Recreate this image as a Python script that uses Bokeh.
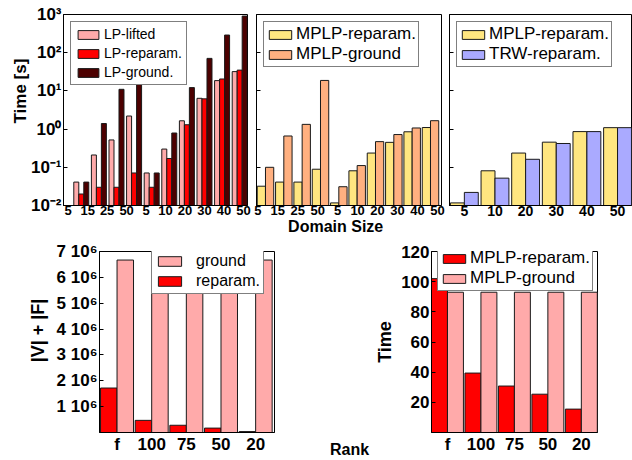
import numpy as np
from math import pi
from bokeh.plotting import figure
from bokeh.layouts import row, column
from bokeh.models import Range1d, FixedTicker, Legend, LegendItem, Label
from bokeh.embed import file_html
from bokeh.resources import INLINE

# ---------------- data ----------------
domain_labels = ["5", "15", "25", "50", "5", "10", "20", "30", "40", "50"]
lp_lifted = [0.041, 0.21, 0.52, 2.2, 0.071, 0.30, 1.65, 6.4, 18.6, 32]
lp_reparam = [0.020, 0.030, 0.030, 0.071, 0.030, 0.17, 1.3, 6.2, 20.5, 35]
lp_ground = [0.041, 1.4, 11.0, 40.0, 0.071, 0.79, 12.2, 71, 290, 910]

mplp_reparam = [0.032, 0.041, 0.041, 0.089, 0.0117, 0.081, 0.236, 0.45, 0.85, 1.1]
mplp_ground = [0.10, 0.66, 1.33, 18.8, 0.031, 0.111, 0.47, 0.72, 1.07, 1.66]

domain_labels_r = ["5", "10", "20", "30", "40", "50"]
mplp_reparam_r = [0.0117, 0.081, 0.236, 0.455, 0.86, 1.09]
trw_reparam = [0.022, 0.052, 0.162, 0.42, 0.86, 1.09]

rank_labels = ["f", "100", "75", "50", "20"]
size_reparam = [1.72e6, 0.47e6, 0.28e6, 0.17e6, 0.036e6]
size_ground = [6.67e6, 6.67e6, 6.67e6, 6.67e6, 6.67e6]

time_reparam = [102, 39.4, 30.8, 25.4, 15.5]
time_ground = [93, 93, 93, 93, 93]

log_ticks = [0.01, 0.1, 1, 10, 100, 1000]
log_tick_labels = ["10\u207b\u00b2", "10\u207b\u00b9", "10\u2070", "10\u00b9", "10\u00b2", "10\u00b3"]
size_ticks = [1e6, 2e6, 3e6, 4e6, 5e6, 6e6, 7e6]
size_tick_labels = ["1 10\u2076", "2 10\u2076", "3 10\u2076", "4 10\u2076", "5 10\u2076", "6 10\u2076", "7 10\u2076"]
time_ticks = [20, 40, 60, 80, 100, 120]

# ---------------- style ----------------
FONT = "Liberation Sans"
PINK, RED, DARK = "#ffaaaa", "#ff0000", "#4d0000"
YELLOW, ORANGE, BLUE = "#ffe680", "#ffb080", "#aaaaff"
EDGE = "#1a1a1a"
NB = "\u00a0"


def base_fig(w, h, bl, br, bt, bb, xr, yr, ylog=False):
    p = figure(width=w, height=h, x_range=Range1d(*xr), y_range=Range1d(*yr),
               y_axis_type="log" if ylog else "linear",
               toolbar_location=None, output_backend="svg",
               min_border_left=bl, min_border_right=br,
               min_border_top=bt, min_border_bottom=bb)
    p.xgrid.visible = False
    p.ygrid.visible = False
    p.outline_line_color = "black"
    p.outline_line_width = 1
    p.outline_line_alpha = 1
    p.background_fill_color = "white"
    p.border_fill_color = "white"
    for ax in p.axis:
        ax.axis_line_color = "black"
        ax.minor_tick_line_color = None
        ax.major_tick_out = 0
        ax.major_tick_line_color = "black"
        ax.major_label_text_font = FONT
        ax.major_label_text_font_style = "bold"
        ax.major_label_text_color = "black"
        ax.axis_label_text_font = FONT
        ax.axis_label_text_font_style = "bold"
        ax.axis_label_text_color = "black"
    p.xaxis.major_tick_in = 0
    p.yaxis.major_tick_in = 4
    return p


def blank_fig(w, h):
    """Blank strip used only to hold a title text."""
    p = figure(width=w, height=h, x_range=Range1d(0, 1), y_range=Range1d(0, 1),
               toolbar_location=None, output_backend="svg",
               min_border_left=0, min_border_right=0, min_border_top=0, min_border_bottom=0)
    p.outline_line_color = None
    p.xgrid.visible = False
    p.ygrid.visible = False
    p.yaxis.visible = False
    p.background_fill_color = "white"
    p.border_fill_color = "white"
    return p


def set_x(p, ticks, labels, size, standoff=2):
    p.xaxis.ticker = FixedTicker(ticks=list(ticks), minor_ticks=[])
    p.xaxis.major_label_overrides = {t: l for t, l in zip(ticks, labels)}
    p.xaxis.major_label_text_font_size = size
    p.xaxis.major_label_standoff = standoff


def set_y(p, ticks, labels, size, show=True):
    p.yaxis.ticker = FixedTicker(ticks=list(ticks), minor_ticks=[])
    if show:
        p.yaxis.major_label_overrides = {t: l for t, l in zip(ticks, labels)}
        p.yaxis.major_label_standoff = 2
    else:
        p.yaxis.major_label_overrides = {t: "" for t in ticks}
        p.yaxis.major_label_standoff = 0
    p.yaxis.major_label_text_font_size = size


def style_legend(lg, fsize, padding, spacing, gw, gh, standoff, lh):
    lg.label_text_font = FONT
    lg.label_text_font_size = fsize
    lg.label_text_color = "black"
    lg.padding = padding
    lg.spacing = spacing
    lg.glyph_width = gw
    lg.glyph_height = gh
    lg.label_standoff = standoff
    lg.label_height = lh
    lg.border_line_color = "black"
    lg.border_line_width = 1
    lg.background_fill_color = "white"
    lg.background_fill_alpha = 1


def x_title(p, text, size, standoff=0):
    p.xaxis.axis_label = text
    p.xaxis.axis_label_text_font_size = size
    p.xaxis.axis_label_standoff = standoff


def y_title(p, text, size, standoff):
    p.yaxis.axis_label = text
    p.yaxis.axis_label_text_font_size = size
    p.yaxis.axis_label_standoff = standoff


# ---------------- panel A: LP ----------------
n = len(domain_labels)
idx = np.arange(n)
wA = 0.284
pA = base_fig(251, 238, 63, 4, 14, 33, (-0.585, 9.87), (0.01, 1000), ylog=True)
pA.vbar(x=idx + wA / 2, top=lp_lifted, bottom=0.01, width=wA, fill_color=PINK,
        line_color=EDGE, line_width=1, legend_label="LP-lifted")
pA.vbar(x=idx + 1.5 * wA, top=lp_reparam, bottom=0.01, width=wA, fill_color=RED,
        line_color=EDGE, line_width=1, legend_label="LP-reparam.")
pA.vbar(x=idx + 2.5 * wA, top=lp_ground, bottom=0.01, width=wA, fill_color=DARK,
        line_color=EDGE, line_width=1, legend_label="LP-ground.")
ticksA = [round(-0.32 + 1.107 * k, 3) for k in range(n)]
set_x(pA, ticksA, domain_labels, "13px", 0)
set_y(pA, log_ticks, log_tick_labels, "17px")
pA.legend.location = "top_left"
pA.legend.margin = 7
style_legend(pA.legend[0], "14px", 4, 3, 26, 11, 3, 16)
y_title(pA, NB * 8 + "Time [s]", "17px", -2)
x_title(pA, NB, "16px")

# ---------------- panel B: MPLP ----------------
wB = 0.45
pB = base_fig(194, 238, 5, 4, 14, 33, (-0.04, 10.05), (0.01, 1000), ylog=True)
pB.vbar(x=idx + wB / 2, top=mplp_reparam, bottom=0.01, width=wB, fill_color=YELLOW,
        line_color=EDGE, line_width=1, legend_label="MPLP-reparam.")
pB.vbar(x=idx + 1.5 * wB, top=mplp_ground, bottom=0.01, width=wB, fill_color=ORANGE,
        line_color=EDGE, line_width=1, legend_label="MPLP-ground")
ticksB = [round(0.03 + 1.089 * k, 3) for k in range(n)]
set_x(pB, ticksB, domain_labels, "13px", 0)
set_y(pB, log_ticks, log_tick_labels, "13px", show=False)
pB.legend.location = "top_left"
pB.legend.margin = 7
style_legend(pB.legend[0], "17px", 2, 0, 28, 11, 2, 16)
x_title(pB, "Domain Size" + NB * 6, "16px")

# ---------------- panel C: MPLP vs TRW ----------------
m = len(domain_labels_r)
idr = np.arange(m)
wC = 0.4545
pC = base_fig(187, 238, 4, 1, 14, 33, (-0.03, 5.91), (0.01, 1000), ylog=True)
pC.vbar(x=idr + wC / 2, top=mplp_reparam_r, bottom=0.01, width=wC, fill_color=YELLOW,
        line_color=EDGE, line_width=1, legend_label="MPLP-reparam.")
pC.vbar(x=idr + 1.5 * wC, top=trw_reparam, bottom=0.01, width=wC, fill_color=BLUE,
        line_color=EDGE, line_width=1, legend_label="TRW-reparam.")
set_x(pC, [round(k + wC, 4) for k in range(m)], domain_labels_r, "14px", 0)
set_y(pC, log_ticks, log_tick_labels, "13px", show=False)
pC.legend.location = "top_left"
pC.legend.margin = 7
style_legend(pC.legend[0], "17px", 2, 0, 28, 11, 2, 16)
x_title(pC, NB, "16px")

# ---------------- left strip with "|V| + |F|" ----------------
pL = blank_fig(50, 222)
pL.xaxis.visible = False
pL.add_layout(Label(x=37, y=102, x_units="screen", y_units="screen", text="|V| + |F|",
                    angle=pi / 2, text_font=FONT, text_font_size="18px",
                    text_font_style="bold", text_align="center",
                    text_baseline="middle", text_color="black"))

# ---------------- panel D: model size ----------------
r = len(rank_labels)
idk = np.arange(r)
wD = 0.476
pD = base_fig(276, 222, 49, 52, 9, 25, (-0.03, 5.02), (0, 7e6))
rD1 = pD.vbar(x=idk + wD / 2, top=size_reparam, bottom=0, width=wD, fill_color=RED,
              line_color=EDGE, line_width=1)
rD2 = pD.vbar(x=idk + 1.5 * wD, top=size_ground, bottom=0, width=wD, fill_color=PINK,
              line_color=EDGE, line_width=1)
set_x(pD, [round(k + wD, 4) for k in range(r)], rank_labels, "17px")
set_y(pD, size_ticks, size_tick_labels, "17px")
lgD = Legend(items=[LegendItem(label="ground", renderers=[rD2]),
                    LegendItem(label="reparam.", renderers=[rD1])],
             location=(52, 138))
style_legend(lgD, "16px", 3, 2, 29, 12, 12, 16)
pD.add_layout(lgD, "center")

# ---------------- middle strip with shared "Rank" title ----------------
pS = blank_fig(46, 222)
pS.xaxis.ticker = FixedTicker(ticks=[], minor_ticks=[])
pS.xaxis.axis_line_color = None
pS.xaxis.major_tick_out = 0
pS.xaxis.major_tick_in = 0
pS.xaxis.major_label_standoff = 0
pS.xaxis.axis_label = "Rank"
pS.xaxis.axis_label_standoff = 8
pS.xaxis.axis_label_text_font = FONT
pS.xaxis.axis_label_text_font_style = "bold"
pS.xaxis.axis_label_text_font_size = "16px"
pS.xaxis.axis_label_text_color = "black"

# ---------------- panel E: time vs rank ----------------
wE = 0.477
pE = base_fig(260, 222, 55, 35, 13, 23, (0, 4.96), (0, 120))
pE.vbar(x=idk + wE / 2, top=time_reparam, bottom=0, width=wE, fill_color=RED,
        line_color=EDGE, line_width=1, legend_label="MPLP-reparam.")
pE.vbar(x=idk + 1.5 * wE, top=time_ground, bottom=0, width=wE, fill_color=PINK,
        line_color=EDGE, line_width=1, legend_label="MPLP-ground")
set_x(pE, [round(k + wE, 4) for k in range(r)], rank_labels, "17px")
set_y(pE, time_ticks, [str(t) for t in time_ticks], "17px")
pE.legend.location = (6, 141)
style_legend(pE.legend[0], "17px", 2, 0, 28, 11, 2, 16)
y_title(pE, "Time", "18px", 3)

layout = column(row(pA, pB, pC, spacing=0), row(pL, pD, pS, pE, spacing=0), spacing=0)
open("out.html", "w").write(file_html(layout, INLINE))
